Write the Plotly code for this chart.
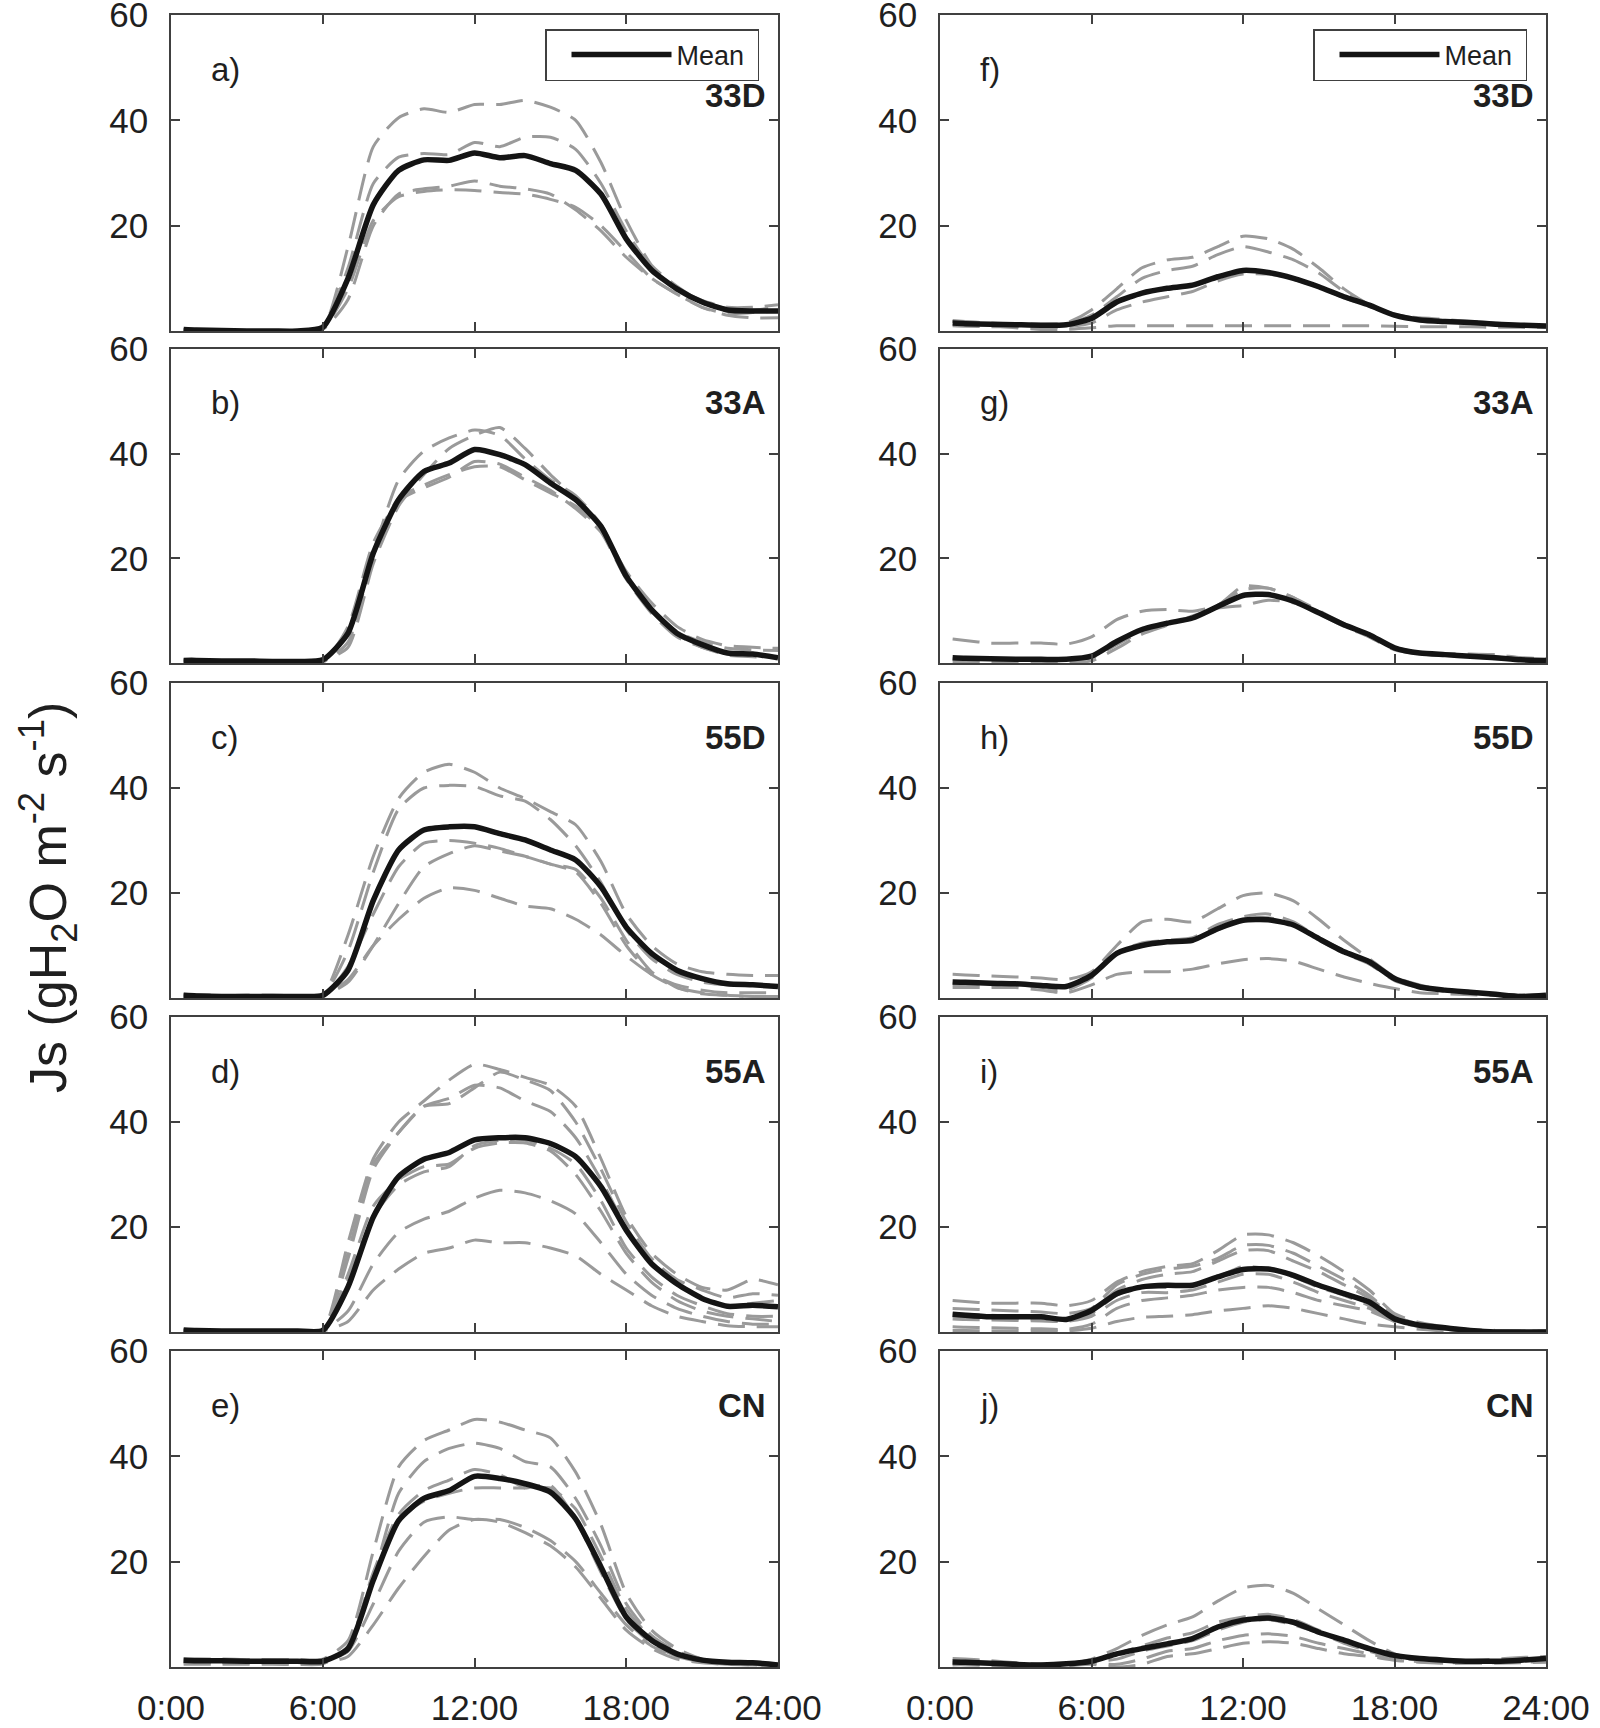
import plotly.graph_objects as go
from plotly.subplots import make_subplots

# ---------------- data ----------------
HOURS = [0.5] + list(range(1, 25))
XTICK_VALS = [0, 6, 12, 18, 24]
XTICK_TEXT = ["0:00", "6:00", "12:00", "18:00", "24:00"]
YTICK_VALS = [20, 40, 60]

PANEL_LETTERS = ["a)", "b)", "c)", "d)", "e)", "f)", "g)", "h)", "i)", "j)"]
SITES = ["33D", "33A", "55D", "55A", "CN", "33D", "33A", "55D", "55A", "CN"]

# --- left column ---
mean_a = [0.3,0.2,0.1,0.0,0.0,0.0,0.7,10.0,24.0,30.5,32.5,32.4,33.8,32.9,33.3,31.8,30.5,26.0,17.5,11.6,8.0,5.5,4.0,3.8,3.8]
trees_a = [
    [0.2,0.1,0,0,0,0,0.5,16,35,40.5,42.2,41.5,43,43,43.8,42.5,40,32,21,12.5,8.5,5.5,4.3,4,4.5],
    [0.3,0.2,0.1,0,0,0,0.8,12,28,33,33.7,33.5,35.8,35,36.8,36.8,34.5,28,19,12,8,5.8,4.5,4.5,5],
    [0.2,0.1,0,0,0,0,0.3,6,20,26,27,27.5,28.5,27.5,27,26,23,19,14,10,7,4.5,3,2.5,2.5],
    [0.3,0.2,0.1,0,0,0,0.5,8,21,25.5,26.5,26.8,26.7,26.3,26,25,23.5,20,15,10,7,4.5,3.3,3.5,3.8],
]
mean_b = [0.5,0.5,0.4,0.4,0.3,0.3,0.6,5.7,21,31.2,36.6,38.2,40.8,39.8,37.9,34.4,31.2,26.1,16.6,10.2,5.7,3.5,1.9,1.7,1.0]
trees_b = [
    [0.4,0.4,0.3,0.3,0.2,0.2,0.2,4,21,35,40.5,43,44.5,43.5,39,35,32,26.5,17,10.5,6,4,2.8,2.5,2.4],
    [0.6,0.6,0.5,0.5,0.4,0.4,0.4,3,19,30,36,41,43.5,45,41,36,31.5,26,17.5,11.5,7,4.5,3.3,3,2.8],
    [0.3,0.3,0.2,0.2,0.1,0.1,0.1,7,23,31,33.5,35.5,38.5,38,35.5,33,29.5,25,16,9.5,5,3,1.5,1.2,1],
    [0.5,0.5,0.4,0.4,0.3,0.3,0.5,6,22,31.5,34,36,37.5,37.5,35,32.5,30,25.5,16.5,10,5.5,3,1.8,1.5,1.2],
]
mean_c = [0.5,0.4,0.3,0.3,0.3,0.3,0.5,5.3,18.6,28.2,32,32.6,32.6,31.3,30.1,28.2,26.3,21.2,13.5,8.5,5.3,3.7,2.7,2.5,2.2]
trees_c = [
    [0.7,0.6,0.5,0.5,0.5,0.5,0.6,12,27,38,43,44.5,43,40,38,35.5,33,26,16,10,6.5,5,4.5,4.3,4.3],
    [0.5,0.5,0.4,0.4,0.4,0.4,0.5,9,24,36,40,40.5,40.3,38.5,37.5,34,29,22,13,7.5,4.5,3,2.5,2.5,2.5],
    [0.3,0.3,0.2,0.2,0.2,0.2,0.3,6,16,25,29.5,30,29.5,28.5,27,25.5,24.5,19,11,5,2,0.8,0.5,0.3,0.2],
    [0.4,0.4,0.3,0.3,0.3,0.3,0.4,3,10,18,25,27.5,29,28,27,25.5,24,18,10,4.5,2,1,0.5,0.3,0.3],
    [0.6,0.6,0.5,0.5,0.5,0.5,0.6,3.5,10,15,19,21,20.5,19,17.5,17,15,12,8,4.5,2.5,1.5,1,1,1],
]
mean_d = [0.4,0.3,0.2,0.2,0.2,0.2,0.3,8.6,21.9,29.6,32.9,34.2,36.6,37,37,35.9,33.4,27.7,19.4,13,9.2,6.4,4.9,5.1,4.8]
trees_d = [
    [0.5,0.4,0.3,0.3,0.3,0.2,0.3,17,33,40,44,48,51,50,48.5,47,43,33,22,15,11,8.5,8,10,9],
    [0.4,0.3,0.3,0.2,0.2,0.2,0.3,14,31,38,43,43.5,46.5,49.5,48,46,40,31,21,14,10,8,6.5,7.3,7],
    [0.3,0.3,0.2,0.2,0.2,0.2,0.3,15,32,38,43,44.5,47,46.5,44,42,37,29,20,13,9,6.5,5,5.5,6],
    [0.3,0.3,0.2,0.2,0.2,0.1,0.2,10,22,28,30.5,31.5,35.5,36.5,36.5,35,32,25,16,10.5,7,5,3.5,3,3],
    [0.4,0.4,0.3,0.3,0.3,0.3,0.4,11,24,29,31.5,32,35,36,36,34.5,30,23,15,9.5,6,4,3,2.5,2],
    [0.3,0.3,0.2,0.2,0.2,0.2,0.3,4,13,19,21.5,23,25.5,27,26.5,25,22.5,17,11,7,4.5,3,2,1.5,1.5],
    [0.2,0.2,0.1,0.1,0.1,0.1,0.2,2,8,12,15,16,17.5,17,17,16,14.5,11,8,5,3,2,1.2,1,1],
]
mean_e = [1.3,1.2,1.2,1.1,1.1,1.1,1.1,3.5,16.5,27.8,32,33.5,36.2,35.8,34.8,33.2,28.1,19,9.5,5.1,2.5,1.3,0.9,0.8,0.4]
trees_e = [
    [1.5,1.5,1.5,1.4,1.4,1.4,1.5,5,22,38,43,45,47,46.5,45,43.5,37,27,14,7,3.5,1.5,0.8,0.8,0.5],
    [1.5,1.5,1.4,1.4,1.4,1.3,1.4,3,17,33,39,41.5,42.5,41.5,39,38,32,23,12,6,3,1.5,0.8,0.5,0.3],
    [0.5,0.5,0.5,0.5,0.5,0.5,0.6,4,18,29,33.5,35.5,37.5,36.5,34,34,30,21,11,5.5,2.5,1.2,0.6,0.4,0.3],
    [1.2,1.2,1.1,1.1,1.1,1.0,1.1,3.5,17,28,31.5,33,34,34,34,34.5,28,18,9,4.5,2,1,0.6,0.5,0.3],
    [1.0,1.0,0.9,0.9,0.9,0.9,1.0,3,12,22,27.5,28.5,28,28,26.5,24,20,14,8,4,2,1,0.5,0.5,0.3],
    [0.8,0.8,0.8,0.7,0.7,0.7,0.8,2,8,15,21,26,28,27.5,25.5,23,19,13,7,3.5,1.5,0.8,0.5,0.4,0.3],
]

# --- right column ---
mean_f = [1.5,1.4,1.3,1.2,1.1,1.2,2.4,5.5,7.2,8.1,8.7,10.3,11.5,11.1,10.0,8.4,6.5,4.9,3.0,2.1,1.8,1.6,1.3,1.1,0.95]
trees_f = [
    [1.8,1.7,1.5,1.4,1.3,1.5,4,8,12,13.5,14,16,18,17.5,15.5,12,8,5,3,2.5,2.2,1.8,1.5,1.2,1],
    [2.0,1.8,1.5,1.3,1.2,1.3,3,6.5,10,11.5,12.3,14.5,16,15,13.5,11,7.5,5,3.2,2.3,2,1.7,1.4,1.1,0.9],
    [1.0,0.9,0.8,0.8,0.7,0.8,1.5,4,5.5,6.5,7.5,9.5,10.8,10.8,9.8,8.3,6.3,4.7,3,2,1.7,1.5,1.2,1,0.8],
    [1.8,1.5,1.0,0.6,0.3,0.3,0.6,1,1,1,1,1,1,1,1,1,1,1,0.9,0.8,0.8,0.8,0.7,0.7,0.7],
]
mean_g = [1.0,0.9,0.8,0.7,0.7,0.7,1.3,4.1,6.4,7.6,8.6,10.8,12.9,13.1,11.8,9.6,7.3,5.4,2.9,1.9,1.6,1.3,1.0,0.6,0.5]
trees_g = [
    [4.6,4.3,3.8,3.8,3.8,3.6,5,8.3,9.9,10.2,9.9,11,14.7,14.3,12.5,9.5,7,5,2.8,1.8,1.5,1.3,1.3,1,0.8],
    [0.3,0.3,0.2,0.1,0.1,0.1,0.4,2.8,5.5,7.2,9,10.5,11,12,11.5,9.8,7.5,5.5,3,2,1.5,1.2,0.8,0.5,0.4],
    [0.8,0.7,0.6,0.6,0.6,0.6,1,3.5,6,7.5,8.5,11,14,14.3,12.5,10,7.5,5,2.5,1.8,1.8,1.7,1.6,1,0.8],
]
mean_h = [3.05,3.0,2.8,2.7,2.4,2.2,4.3,8.5,10,10.7,11,13.2,14.8,14.9,13.9,11.3,8.8,6.9,3.7,2.1,1.5,1.1,0.7,0.3,0.5]
trees_h = [
    [4.5,4.4,4.2,4.0,3.8,3.5,5,10,14.5,15,14.5,17,19.5,20,18.5,15,11,7.5,4,2.5,1.5,1,0.7,0.5,0.5],
    [2.5,2.5,2.5,2.5,2.0,1.5,3.8,8.5,10.5,11,11.5,14,15.5,16,14.5,11.5,9,6.5,3.5,2,1.5,1,0.7,0.5,0.5],
    [2.8,2.8,2.7,2.6,2.3,2.0,4,8.5,10,10.8,11,13,15,15.3,14,11,8.5,6.5,3.3,2,1.4,1,0.6,0.3,0.4],
    [2.0,2.0,2.0,2.0,1.5,1.0,2.5,4.5,5,5,5.5,6.5,7.3,7.5,7,5.5,4,2.8,1.8,1,0.8,0.6,0.5,0.3,0.3],
]
mean_i = [3.4,3.2,2.9,2.9,2.9,2.4,4.1,7.3,8.6,8.9,8.9,10.5,11.9,12,10.8,8.9,7.3,5.7,2.5,1.3,0.8,0.3,0,0,0]
trees_i = [
    [6,5.8,5.5,5.5,5.5,5,6,9.5,11.5,12.5,13,15.5,18.5,18.5,17,14.5,11.5,8,3.5,1.8,1,0.5,0.3,0.2,0.2],
    [4.5,4.4,4.2,4,3.8,3.5,4.5,9,11,12,12.5,14,16.5,16.5,15,12.5,10,7,3,1.5,0.8,0.4,0.2,0.2,0.2],
    [3.5,3.4,3.2,3,2.8,2.5,4,8,10,11,11.5,13.5,15.5,15.5,13.5,11.5,9,6.5,3,1.5,0.8,0.4,0.2,0.1,0.1],
    [3,2.9,2.7,2.5,2.4,2.2,3.5,7,8.5,8.5,9,10.5,12.5,12,10.5,8.5,7,5,2.5,1.2,0.6,0.3,0.1,0.1,0.1],
    [2.5,2.4,2.3,2.2,2.1,2,3,6,7.5,7.5,8,9.5,11,11,9.5,7.5,6,4.5,2.3,1.1,0.5,0.2,0.1,0,0],
    [1,0.9,0.8,0.7,0.6,0.5,1.5,4.5,6,6.5,7,8,8.5,8.5,7.5,6,5,4,2,1,0.5,0.2,0.1,0,0],
    [0.3,0.3,0.2,0.2,0.2,0.2,0.7,2,2.8,3,3.3,4,4.5,5,4.5,3.5,2.5,1.5,1,0.5,0.2,0.1,0,0,0],
]
mean_j = [0.95,0.9,0.7,0.5,0.4,0.6,1.1,2.5,3.5,4.4,5.4,7.6,8.9,9.3,8.5,6.6,5.1,3.5,2.2,1.6,1.3,1.1,1.1,1.3,1.6]
trees_j = [
    [1.6,1.5,1.2,0.8,0.5,0.6,1.5,3.5,6,8,9.5,12.5,15,15.5,14,11,8,5,2.5,1.5,1.2,1.2,1.5,1.8,2],
    [1.2,1.1,0.9,0.7,0.5,0.6,1.2,2.5,4,5.5,6.5,8.5,9.5,10,9,7,5,3.5,2,1.5,1.3,1.2,1.2,1.3,1.5],
    [0.9,0.9,0.7,0.5,0.4,0.5,1,1.5,3,4,5,7,8.5,9,8,6.5,4.5,3,1.8,1.3,1.1,1,1,1.1,1.3],
    [0.6,0.6,0.5,0.3,0.2,0.3,0.7,0.5,1.5,3,3.5,5,6,6.3,5.8,4.5,3.5,2.5,1.5,1,0.8,0.8,0.8,0.9,1],
    [0.4,0.4,0.3,0.2,0.1,0.2,0.5,0,0.5,2,2.5,3.5,4.5,4.8,4.5,3.5,2.5,2,1.3,0.9,0.7,0.7,0.7,0.8,0.9],
]

MEANS = [mean_a, mean_b, mean_c, mean_d, mean_e, mean_f, mean_g, mean_h, mean_i, mean_j]
TREES = [trees_a, trees_b, trees_c, trees_d, trees_e, trees_f, trees_g, trees_h, trees_i, trees_j]

# ---------------- figure ----------------
W, H = 1600, 1728
FONT = "Liberation Sans, Arial, Helvetica, sans-serif"
AX = "#404040"
TXT = "#1f1f1f"
GREY = "#9a9a9a"

fig = make_subplots(rows=5, cols=2)

# panel pixel geometry (full-size)
col_x = [(171, 778), (940, 1546)]
row_y = [(15, 331), (349, 663), (683, 998), (1017, 1332), (1351, 1667)]

for p in range(10):
    col = 0 if p < 5 else 1
    row = p % 5
    for tree in TREES[p]:
        fig.add_trace(go.Scatter(
            x=HOURS, y=tree, mode="lines",
            line=dict(color=GREY, width=3, dash="27px,12px", shape="spline", smoothing=0.6),
            showlegend=False, hoverinfo="skip"),
            row=row + 1, col=col + 1)
    show = (row == 0)
    fig.add_trace(go.Scatter(
        x=HOURS, y=MEANS[p], mode="lines", name="Mean&nbsp;",
        line=dict(color="#141414", width=5.5, shape="spline", smoothing=0.6),
        showlegend=show, legend=("legend" if col == 0 else "legend2")),
        row=row + 1, col=col + 1)

annotations = []
for p in range(10):
    col = 0 if p < 5 else 1
    row = p % 5
    idx = row * 2 + col + 1
    xs = "" if idx == 1 else str(idx)
    x0, x1 = col_x[col]
    y0, y1 = row_y[row]
    fig.layout[f"xaxis{xs}"].update(
        domain=[x0 / W, x1 / W], range=[0, 24], automargin=False,
        tickvals=XTICK_VALS, ticktext=XTICK_TEXT, showticklabels=(row == 4),
        ticks="inside", ticklen=9, tickwidth=1.5, tickcolor=AX,
        showline=True, linecolor=AX, linewidth=1.5, mirror="ticks",
        showgrid=False, zeroline=False, ticklabelstandoff=9,
        ticklabeloverflow="allow",
        tickfont=dict(size=35, color=TXT, family=FONT))
    fig.layout[f"yaxis{xs}"].update(
        domain=[1 - y1 / H, 1 - y0 / H], range=[0, 60], automargin=False,
        tickvals=YTICK_VALS, ticks="inside", ticklen=9, tickwidth=1.5, tickcolor=AX,
        showline=True, linecolor=AX, linewidth=1.5, mirror="ticks",
        showgrid=False, zeroline=False, ticklabelstandoff=14,
        ticklabeloverflow="allow",
        tickfont=dict(size=35, color=TXT, family=FONT))
    annotations.append(dict(
        x=1.5, y=49.7, xref=f"x{xs}", yref=f"y{xs}", text=PANEL_LETTERS[p],
        showarrow=False, xanchor="left", yanchor="middle",
        font=dict(size=33, color=TXT, family=FONT)))
    annotations.append(dict(
        x=23.6, y=(44.8 if row == 0 else 49.7), xref=f"x{xs}", yref=f"y{xs}",
        text=f"<b>{SITES[p]}</b>", showarrow=False, xanchor="right", yanchor="middle",
        font=dict(size=33, color=TXT, family=FONT)))

annotations.append(dict(
    x=48 / W, y=1 - 898 / H, xref="paper", yref="paper",
    text="Js (gH<sub>2</sub>O m<sup>-2</sup> s<sup>-1</sup>)",
    textangle=-90, showarrow=False, xanchor="center", yanchor="middle",
    font=dict(size=52, color=TXT, family=FONT)))

legend_common = dict(
    yanchor="top", xanchor="right", bgcolor="white",
    bordercolor=AX, borderwidth=1.5, itemwidth=100, indentation=20,
    font=dict(size=27, color=TXT, family=FONT))

fig.update_layout(
    template="none",
    width=W, height=H, margin=dict(l=0, r=0, t=0, b=0, autoexpand=False),
    paper_bgcolor="white", plot_bgcolor="white",
    font=dict(family=FONT, color=TXT),
    annotations=annotations,
    legend=dict(x=759 / W, y=1 - 29 / H, **legend_common),
    legend2=dict(x=1527 / W, y=1 - 29 / H, **legend_common),
)

fig.write_html("out.html", config={"displayModeBar": False},
               post_script="document.body.style.margin='0';document.body.style.overflow='hidden';")
